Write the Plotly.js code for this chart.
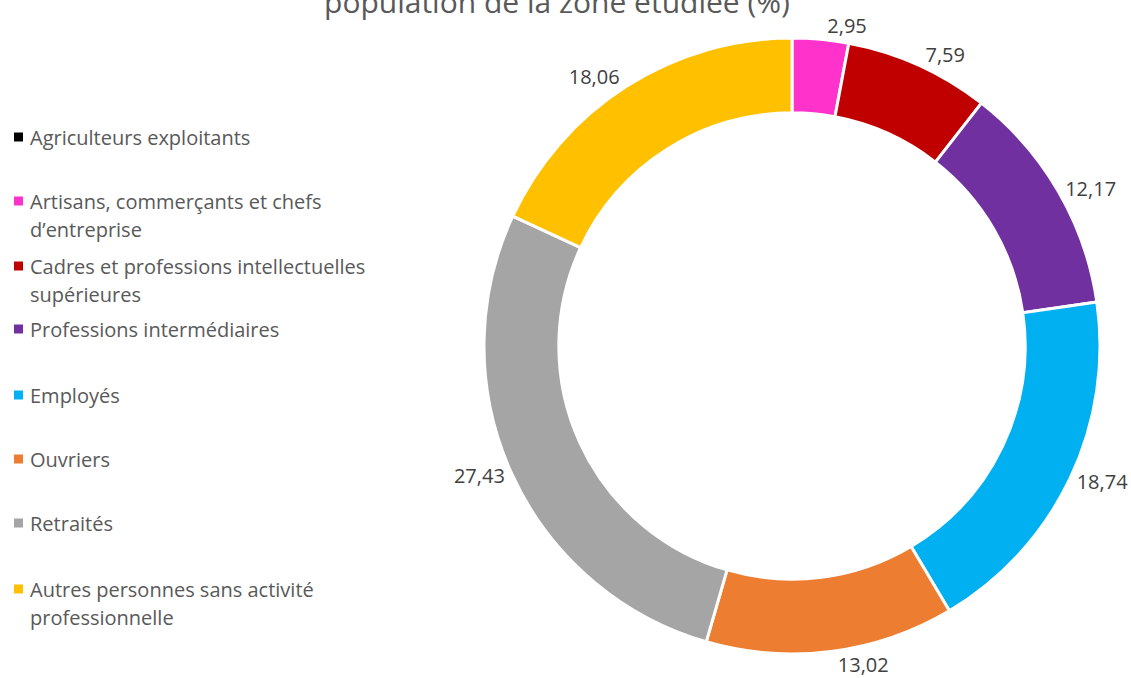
<!DOCTYPE html>
<html>
<head>
<meta charset="utf-8">
<script src="https://cdn.plot.ly/plotly-3.0.1.min.js"></script>
<style>html,body{margin:0;padding:0;background:#fff;}#chart{width:1131px;height:678px;}</style>
</head>
<body>
<div id="chart"></div>
<script>
var categories = [
  "Agriculteurs exploitants",
  "Artisans, commerçants et chefs d’entreprise",
  "Cadres et professions intellectuelles supérieures",
  "Professions intermédiaires",
  "Employés",
  "Ouvriers",
  "Retraités",
  "Autres personnes sans activité professionnelle"
];
var legendLines = [
  ["Agriculteurs exploitants"],
  ["Artisans, commerçants et chefs", "d’entreprise"],
  ["Cadres et professions intellectuelles", "supérieures"],
  ["Professions intermédiaires"],
  ["Employés"],
  ["Ouvriers"],
  ["Retraités"],
  ["Autres personnes sans activité", "professionnelle"]
];
var values = [0, 2.95, 7.59, 12.17, 18.74, 13.02, 27.43, 18.06];
var colors = ["#000000", "#FF33CC", "#C00000", "#7030A0", "#00B0F0", "#ED7D31", "#A5A5A5", "#FFC000"];
var titleText = "population de la zone étudiée (%)";

var W = 1131, H = 678;
var FONT = "'Open Sans', sans-serif";
var labels = values.map(function(v){ return v > 0 ? v.toFixed(2).replace('.', ',') : ''; });

var trace = {
  type: 'pie',
  labels: categories,
  values: values,
  text: labels,
  textinfo: 'text',
  textposition: 'outside',
  sort: false,
  direction: 'clockwise',
  rotation: 0,
  hole: 0.757,
  marker: {colors: colors, line: {color: '#ffffff', width: 3}},
  textfont: {family: FONT, size: 20, color: '#404040'},
  outsidetextfont: {family: FONT, size: 20, color: '#404040'},
  domain: {x: [484/W, 1100/W], y: [1 - 654/H, 1 - 38/H]},
  showlegend: false,
  hoverinfo: 'label+value'
};

var annotations = [], shapes = [];
var itemY = [137, 201, 266, 329, 395, 459, 523, 589];
var lineGap = 28;
legendLines.forEach(function(lines, i){
  var y0 = itemY[i];
  shapes.push({type: 'rect', xref: 'paper', yref: 'paper',
    x0: 14/W, x1: 23/W, y0: 1 - (y0 + 4.5)/H, y1: 1 - (y0 - 4.5)/H,
    fillcolor: colors[i], line: {width: 0}});
  lines.forEach(function(t, j){
    annotations.push({xref: 'paper', yref: 'paper', x: 28/W, y: 1 - (y0 + j*lineGap)/H,
      xanchor: 'left', yanchor: 'middle', showarrow: false, text: t,
      font: {family: FONT, size: 20, color: '#595959'}});
  });
});

var layout = {
  width: W, height: H,
  margin: {l: 0, r: 0, t: 0, b: 0},
  paper_bgcolor: '#ffffff',
  separators: ', ',
  title: {text: titleText, x: 557/W, xanchor: 'center', y: 0.997, yanchor: 'middle', yref: 'container',
    font: {family: FONT, size: 30, color: '#595959'}},
  annotations: annotations,
  shapes: shapes
};

Plotly.newPlot('chart', [trace], layout, {displayModeBar: false, staticPlot: true});
</script>
</body>
</html>
